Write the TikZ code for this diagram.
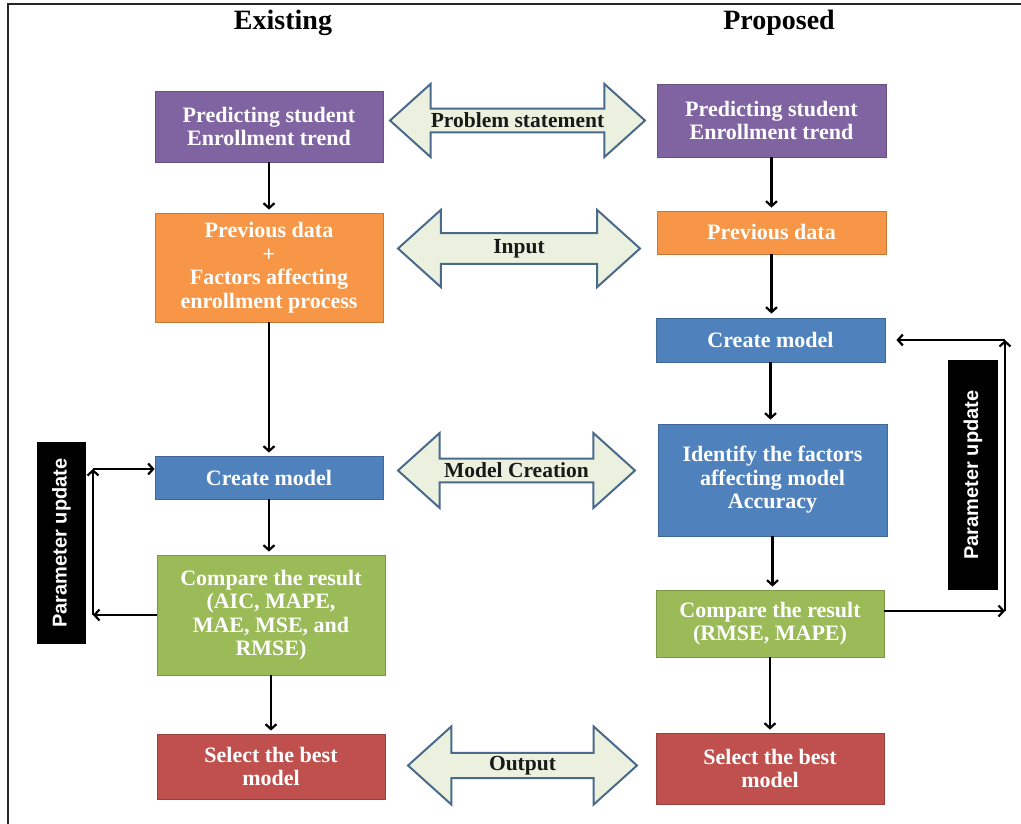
\documentclass[tikz,border=0pt]{standalone}
\usepackage{fontspec}
\setmainfont{Liberation Serif}
\setsansfont{Liberation Sans}
\usetikzlibrary{shapes.arrows,positioning,arrows.meta}
\definecolor{boxpurple}{HTML}{8064A2}
\definecolor{boxorange}{HTML}{F79646}
\definecolor{boxblue}{HTML}{4F81BD}
\definecolor{boxgreen}{HTML}{9BBB59}
\definecolor{boxred}{HTML}{C0504D}
\definecolor{arrowfill}{HTML}{EBF1DE}
\definecolor{arrowedge}{HTML}{4A6A8C}
\tikzset{
>={Straight Barb[length=5pt,width=11pt]},
}

\begin{document}
\begin{tikzpicture}
    [x=1pt, y=-1pt, line width=2.2pt,
    block/.style={rectangle, draw=#1!80!black, fill=#1, line width=0.8pt,
        text=white, align=center, inner sep=0pt,
        font=\fontsize{22}{23.5}\selectfont\bfseries},
    title/.style={font=\fontsize{28}{30}\selectfont\bfseries},
    dblarrow/.style={double arrow, draw=arrowedge, fill=arrowfill, line width=2pt,
        inner sep=0pt, text=black!90, double arrow tip angle=84,
        font=\fontsize{21.5}{22}\selectfont\bfseries},
    parbox/.style={rectangle, fill=black, text=white, rotate=90, inner sep=0pt,
        font=\sffamily\fontsize{20}{22}\selectfont\bfseries},
    ]
    \useasboundingbox (0,0) rectangle (1021,824);
    \draw[line width=2pt, black!85] (8,824) -- (8,4) -- (1021,4);

    \node [title] (exist) at (283,23) {Existing};
    \node [title] (propo) at (779,23) {Proposed};

    % existing
    \node [block=boxpurple, minimum width=228, minimum height=71] (predL) at (269,126.5)
    {Predicting student\\ Enrollment trend};
    \node [block=boxorange, minimum width=228, minimum height=109] (prevL) at (269,267.5)
    {Previous data\\ +\\ Factors affecting\\ enrollment process};
    \node [block=boxblue, minimum width=228, minimum height=43] (createL) at (269,477.5)
    {Create model};
    \node [block=boxgreen, minimum width=228, minimum height=120] (cmpL) at (271,615)
    {Compare the result\\ (AIC, MAPE,\\ MAE, MSE, and\\ RMSE)};
    \node [block=boxred, minimum width=228, minimum height=65] (selL) at (271,766.5)
    {Select the best\\ model};

    % proposed
    \node [block=boxpurple, minimum width=229, minimum height=73] (predR) at (771.5,120.5)
    {Predicting student\\ Enrollment trend};
    \node [block=boxorange, minimum width=229, minimum height=43] (prevR) at (771.5,232.5)
    {Previous data};
    \node [block=boxblue, minimum width=229, minimum height=44] (createR) at (770.5,340)
    {Create model};
    \node [block=boxblue, minimum width=229, minimum height=112] (idR) at (772.5,480)
    {Identify the factors\\ affecting model\\ Accuracy};
    \node [block=boxgreen, minimum width=228, minimum height=67] (cmpR) at (770,623.5)
    {Compare the result\\ (RMSE, MAPE)};
    \node [block=boxred, minimum width=228, minimum height=71] (selR) at (770,768.5)
    {Select the best\\ model};

    % double arrows
    \node [dblarrow, minimum height=255, minimum width=73, double arrow head extend=17.5]
    (probArr) at (517.5,120.5) {Problem statement};
    \node [dblarrow, minimum height=242, minimum width=77, double arrow head extend=15.5]
    (inArr) at (519,248.5) {Input};
    \node [dblarrow, minimum height=237, minimum width=75, double arrow head extend=18.5]
    (modArr) at (516.5,470.5) {Model Creation};
    \node [dblarrow, minimum height=229, minimum width=78, double arrow head extend=21.5]
    (outArr) at (522.5,765.5) {Output};

    \node [parbox, minimum width=202, minimum height=49] (parL) at (61.5,543) {Parameter update};
    \node [parbox, minimum width=230, minimum height=50] (parR) at (973,475) {Parameter update};

    % flow arrows
    \draw[->, shorten >=3pt] (predL) -- (predL |- prevL.north);
    \draw[->, shorten >=3pt] (prevL) -- (prevL |- createL.north);
    \draw[->, shorten >=3pt] (createL) -- (createL |- cmpL.north);
    \draw[->, shorten >=3pt] (cmpL) -- (cmpL |- selL.north);
    \draw[->, shorten >=3pt] (predR) -- (predR |- prevR.north);
    \draw[->, shorten >=4pt] (prevR) -- (prevR |- createR.north);
    \draw[->, shorten >=4pt] (createR) -- (createR |- idR.north);
    \draw[->, shorten >=3pt] (idR) -- (idR |- cmpR.north);
    \draw[->, shorten >=3pt] (cmpR) -- (cmpR |- selR.north);

    % feedback loops
    \coordinate (fbLb) at (93,615);
    \coordinate (fbLt) at (93,469);
    \draw[->] (cmpL.west) -- (fbLb);
    \draw[->] (fbLb) -- (fbLt);
    \draw[->] (fbLt) -- (createL.west |- fbLt);

    \coordinate (fbRb) at (1005,611);
    \coordinate (fbRt) at (1005,340);
    \draw[->] (cmpR.east |- fbRb) -- (fbRb);
    \draw[->] (fbRb) -- (fbRt);
    \draw[->, shorten >=11pt] (fbRt) -- (createR.east);
\end{tikzpicture}
\end{document}
